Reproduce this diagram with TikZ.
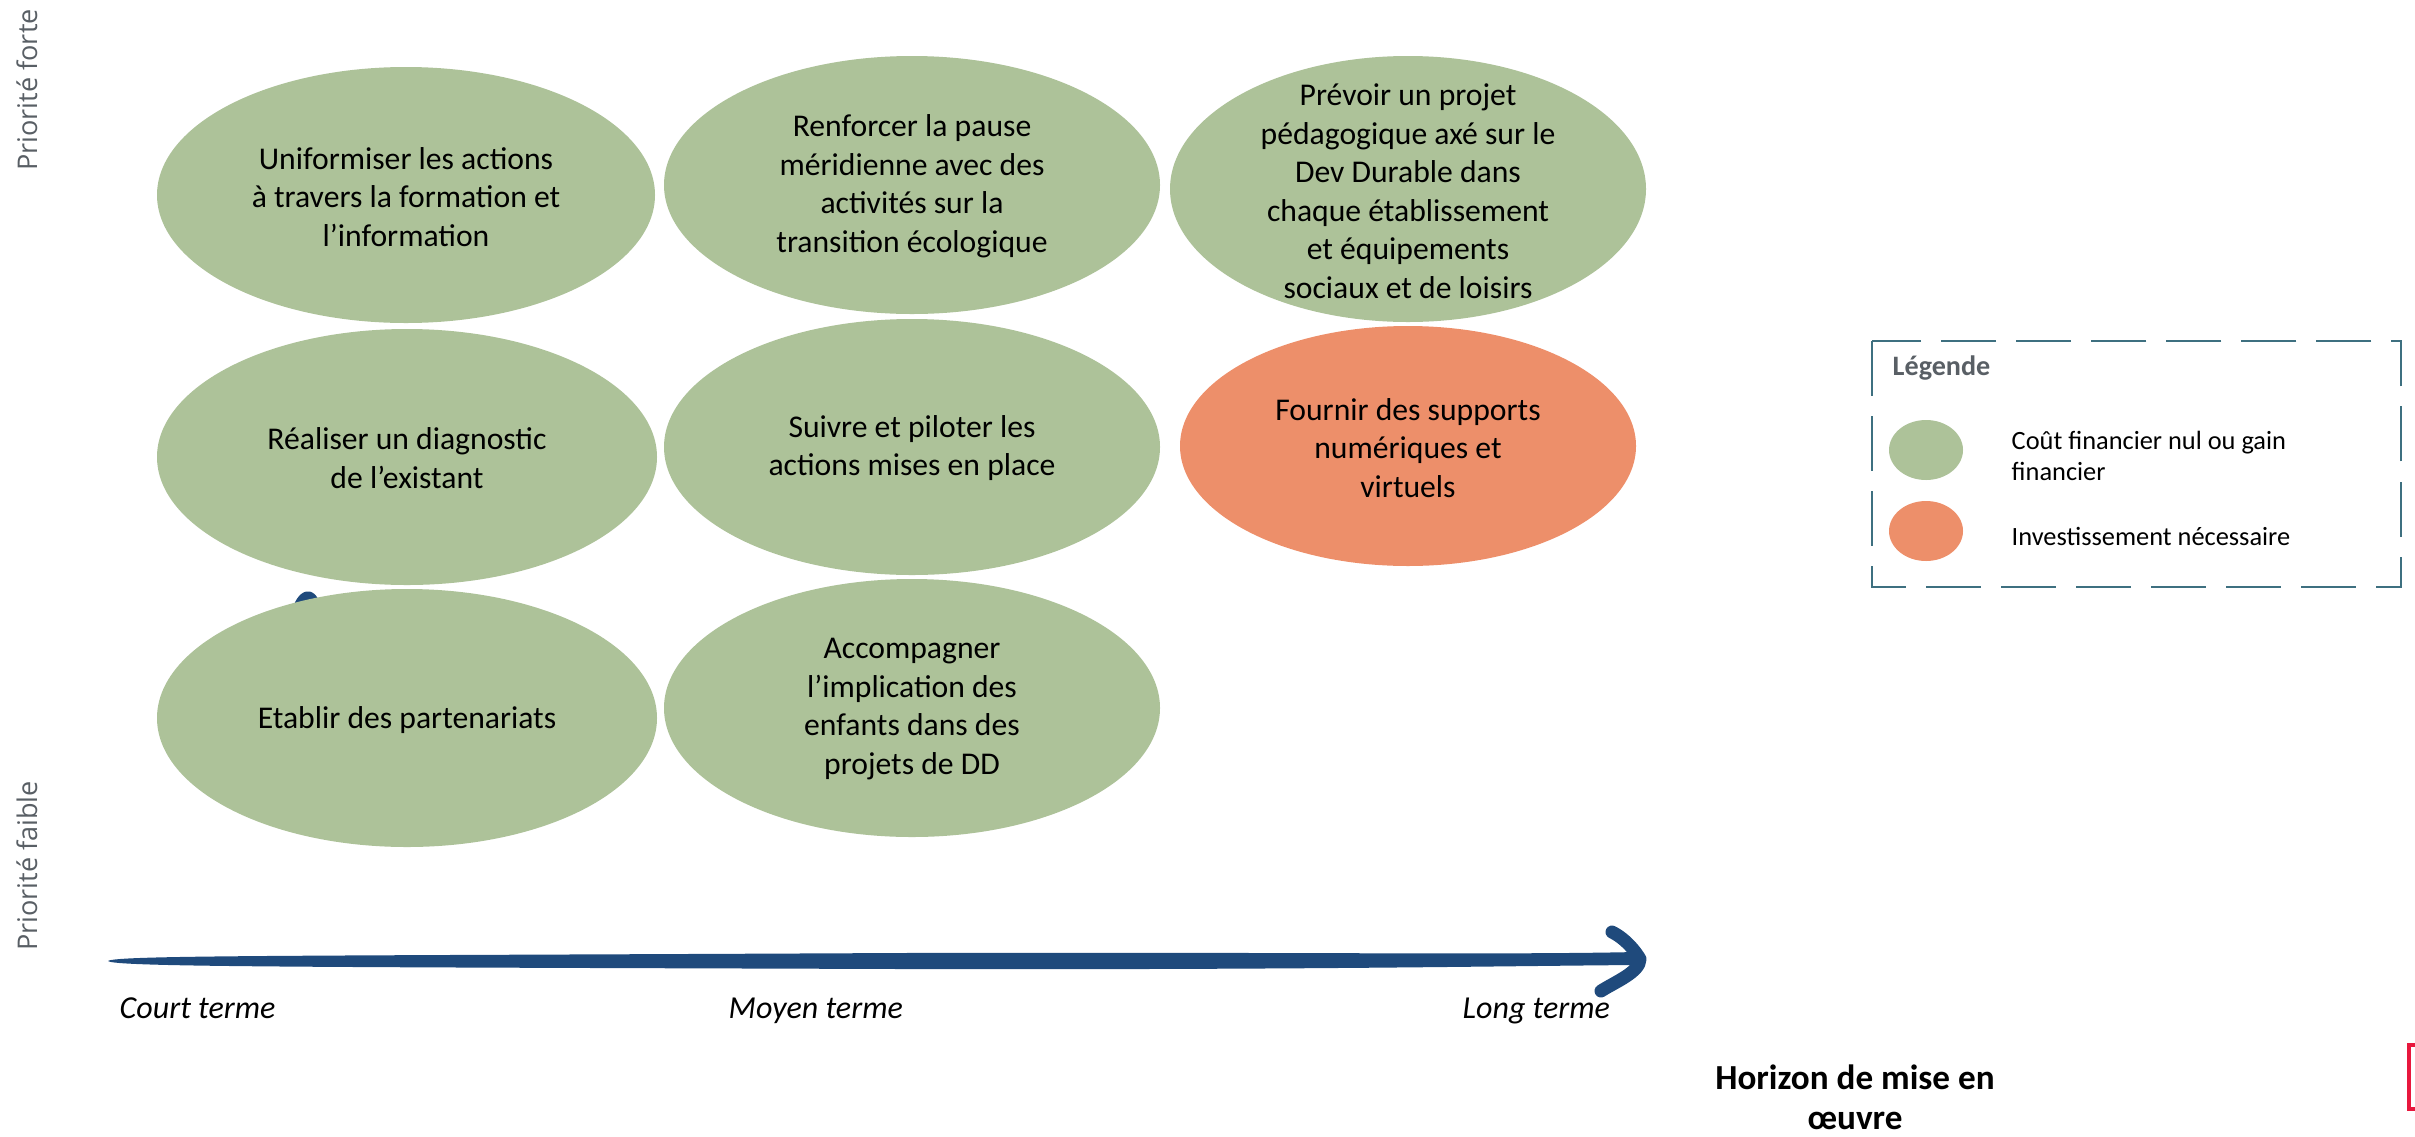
\documentclass[tikz,border=0pt]{standalone}
\usepackage{fontspec}
\setmainfont{Carlito}
\newfontfamily\prioritefont{Open Sans}

\definecolor{actvert}{RGB}{173,194,153}
\definecolor{actorange}{RGB}{237,143,106}
\definecolor{axebleu}{RGB}{31,74,124}
\definecolor{legcadre}{RGB}{62,112,128}
\definecolor{gristexte}{RGB}{89,95,101}
\definecolor{rougecadre}{RGB}{232,23,61}

\tikzset{
  action/.style={align=center,inner sep=0pt,font=\fontsize{9}{10.95}\selectfont},
  terme/.style={anchor=base west,inner sep=0pt,font=\fontsize{9.1}{11}\selectfont\itshape},
  priorite/.style={rotate=90,text=gristexte,font=\prioritefont\fontsize{7.7}{9}\selectfont},
  legtexte/.style={align=left,inner sep=0pt,font=\fontsize{7.5}{8.6}\selectfont}
}

\begin{document}
\begin{tikzpicture}[x=0.01cm,y=-0.01cm]
\useasboundingbox (0,0) rectangle (2415,1136);

% bout de fleche verticale, cache par les actions
\fill[axebleu] (292,612) .. controls (296,590) and (314,582) .. (321,606) -- cycle;

% premiere ligne
\fill[actvert] (406,195) ellipse (249 and 128);
\node[action] (uniformiser) at (406,197) {Uniformiser les actions\\à travers la formation et\\l’information};
\fill[actvert] (912,185) ellipse (248 and 129);
\node[action] (renforcer) at (912,186) {Renforcer la pause\\méridienne avec des\\activités sur la\\transition écologique};
\fill[actvert] (1408,189) ellipse (238 and 133);
\node[action] (prevoir) at (1408,191) {Prévoir un projet\\pédagogique axé sur le\\Dev Durable dans\\chaque établissement\\et équipements\\sociaux et de loisirs};

% deuxieme ligne
\fill[actvert] (407,457) ellipse (250 and 128);
\node[action] (diagnostic) at (407,458) {Réaliser un diagnostic\\de l’existant};
\fill[actvert] (912,447) ellipse (248 and 128);
\node[action] (suivre) at (912,448) {Suivre et piloter les\\actions mises en place};
\fill[actorange] (1408,446) ellipse (228 and 120);
\node[action] (fournir) at (1408,448) {Fournir des supports\\numériques et\\virtuels};

% troisieme ligne
\fill[actvert] (407,718) ellipse (250 and 129);
\node[action] (partenariats) at (407,720) {Etablir des partenariats};
\fill[actvert] (912,708) ellipse (248 and 129);
\node[action] (accompagner) at (912,709) {Accompagner\\l’implication des\\enfants dans des\\projets de DD};

% axe horizontal
\coordinate (debut) at (108,961);
\coordinate (pointe) at (1640,959);
\fill[axebleu] (debut) .. controls (115,955) and (300,956) .. (900,953)
  .. controls (1300,952) and (1500,955) .. (1636,952) -- (1636,965)
  .. controls (1500,966) and (1300,970) .. (900,969)
  .. controls (300,967) and (115,967) .. (debut) -- cycle;
\draw[axebleu,line width=0.13cm,line cap=round,line join=round]
  (1612,932) .. controls (1630,941) and (pointe) .. (pointe)
  .. controls (1640,972) and (1615,982) .. (1601,991);
\node[terme] (court) at (119,1018) {Court terme};
\node[terme] (moyen) at (728,1018) {Moyen terme};
\node[terme] (long) at (1462,1018) {Long terme};
\node[align=center,inner sep=0pt,font=\bfseries\fontsize{10}{11.4}\selectfont] (horizon) at (1855,1097) {Horizon de mise en\\œuvre};

% priorites
\node[priorite] (forte) at (27,90) {Priorité forte};
\node[priorite] (faible) at (27,866) {Priorité faible};

% legende
\draw[legcadre,line width=0.025cm,dash pattern=on 0.55cm off 0.2cm] (1872,341) rectangle (2401,587);
\node[anchor=base west,inner sep=0pt,text=gristexte,font=\bfseries\fontsize{8}{9.6}\selectfont] (legende) at (1892,375) {Légende};
\fill[actvert] (1926,450) ellipse (37 and 30);
\node[legtexte,anchor=west] (cout) at (2011,456) {Coût financier nul ou gain\\financier};
\fill[actorange] (1926,531) ellipse (37 and 30);
\node[legtexte,anchor=base west] (invest) at (2011,545) {Investissement nécessaire};

% cadre rouge coupe au bord
\draw[rougecadre,line width=0.035cm] (2409,1045) rectangle (2440,1109);
\end{tikzpicture}
\end{document}
